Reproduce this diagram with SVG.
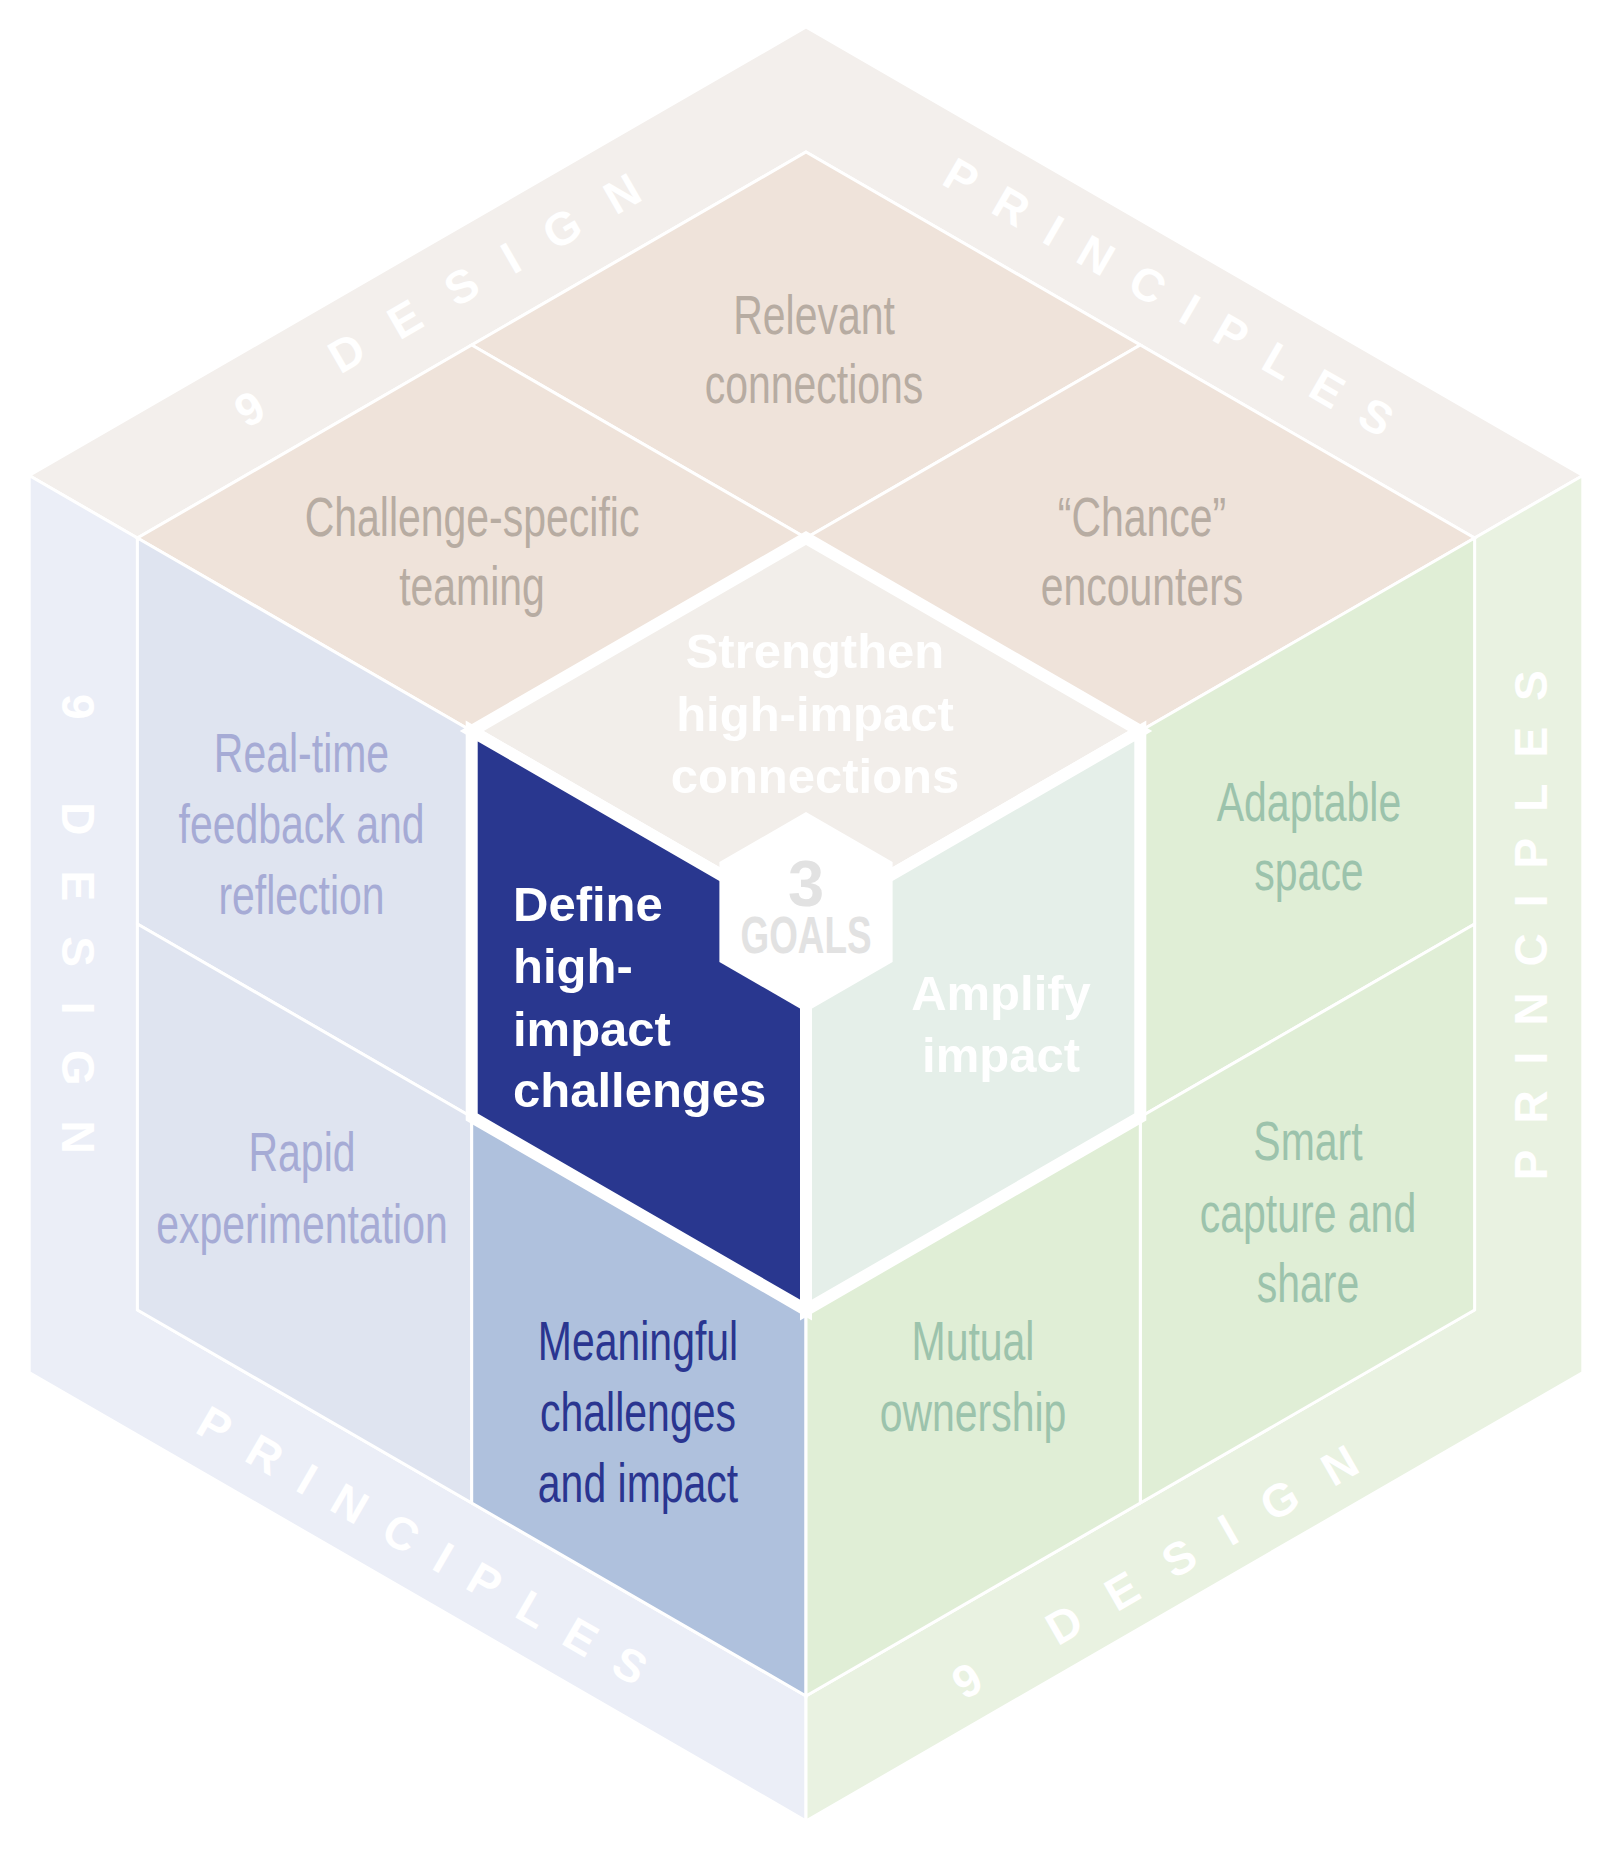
<svg xmlns="http://www.w3.org/2000/svg" width="1612" height="1854" viewBox="0 0 1612 1854">
<style>
.band{stroke:#fff;stroke-width:3;stroke-linejoin:miter}
.tile{stroke:#fff;stroke-width:3;stroke-linejoin:miter}
.goal{stroke:#fff;stroke-width:12;stroke-linejoin:miter}
.lbl{font-family:'Liberation Sans',Arial,sans-serif;font-size:55px;text-anchor:middle}
.gl{font-family:'Liberation Sans',Arial,sans-serif;font-size:49px;font-weight:bold;fill:#fff}
.bt{font-family:'Liberation Sans',Arial,sans-serif;font-size:46px;font-weight:bold;fill:#fff}
.d{letter-spacing:35px}
.p{letter-spacing:26px}
.ct{fill:#efe3da}.cl{fill:#dfe4f0}.cr{fill:#e0eed6}
.tt{fill:#b7aca2}.tl{fill:#a6abd5}.tr{fill:#9cc3ac}
</style>
<rect width="1612" height="1854" fill="#fff"/>

<g id="bands">
  <g id="band-top">
    <polygon class="band" fill="#f3efec" points="806,27 1582.8,475.5 1474.6,538 806,152 137.4,538 29.2,475.5"/>
    <text class="bt d" transform="translate(246.5,429) rotate(-30)">9 DESIGN</text>
    <text class="bt p" transform="translate(939.9,183.4) rotate(30)">PRINCIPLES</text>
  </g>
  <g id="band-left">
    <polygon class="band" fill="#ebeef7" points="29.2,475.5 137.4,538 137.4,1310 806,1696 806,1821 29.2,1372.5"/>
    <text class="bt d" transform="translate(62.2,693.9) rotate(90)">9 DESIGN</text>
    <text class="bt p" transform="translate(193.5,1431.7) rotate(30)">PRINCIPLES</text>
  </g>
  <g id="band-right">
    <polygon class="band" fill="#e9f2e1" points="1582.8,475.5 1582.8,1372.5 806,1821 806,1696 1474.6,1310 1474.6,538"/>
    <text class="bt p" transform="translate(1546.5,1180.3) rotate(-90)">PRINCIPLES</text>
    <text class="bt d" transform="translate(963.9,1700.7) rotate(-30)">9 DESIGN</text>
  </g>
</g>

<g id="relevant-connections">
  <polygon class="tile ct" points="806,152 1140.3,345 806,538 471.7,345"/>
  <text class="lbl tt" transform="translate(814,0) scale(0.745,1)"><tspan x="0" y="334">Relevant</tspan><tspan x="0" y="403">connections</tspan></text>
</g>
<g id="challenge-specific-teaming">
  <polygon class="tile ct" points="471.7,345 806,538 471.7,731 137.4,538"/>
  <text class="lbl tt" transform="translate(472,0) scale(0.745,1)"><tspan x="0" y="536">Challenge-specific</tspan><tspan x="0" y="605">teaming</tspan></text>
</g>
<g id="chance-encounters">
  <polygon class="tile ct" points="1140.3,345 1474.6,538 1140.3,731 806,538"/>
  <text class="lbl tt" transform="translate(1142,0) scale(0.745,1)"><tspan x="0" y="536">“Chance”</tspan><tspan x="0" y="605">encounters</tspan></text>
</g>
<g id="real-time-feedback">
  <polygon class="tile cl" points="137.4,538 471.7,731 471.7,1117 137.4,924"/>
  <text class="lbl tl" transform="translate(301.5,0) scale(0.745,1)"><tspan x="0" y="772">Real-time</tspan><tspan x="0" y="843">feedback and</tspan><tspan x="0" y="914">reflection</tspan></text>
</g>
<g id="rapid-experimentation">
  <polygon class="tile cl" points="137.4,924 471.7,1117 471.7,1503 137.4,1310"/>
  <text class="lbl tl" transform="translate(302,0) scale(0.745,1)"><tspan x="0" y="1171">Rapid</tspan><tspan x="0" y="1243">experimentation</tspan></text>
</g>
<g id="meaningful-challenges">
  <polygon class="tile" fill="#afc1dd" points="471.7,1117 806,1310 806,1696 471.7,1503"/>
  <text class="lbl" fill="#2a3590" transform="translate(638,0) scale(0.745,1)"><tspan x="0" y="1360">Meaningful</tspan><tspan x="0" y="1431">challenges</tspan><tspan x="0" y="1502">and impact</tspan></text>
</g>
<g id="adaptable-space">
  <polygon class="tile cr" points="1140.3,731 1474.6,538 1474.6,924 1140.3,1117"/>
  <text class="lbl tr" transform="translate(1309,0) scale(0.745,1)"><tspan x="0" y="821">Adaptable</tspan><tspan x="0" y="890">space</tspan></text>
</g>
<g id="smart-capture">
  <polygon class="tile cr" points="1140.3,1117 1474.6,924 1474.6,1310 1140.3,1503"/>
  <text class="lbl tr" transform="translate(1308,0) scale(0.745,1)"><tspan x="0" y="1160">Smart</tspan><tspan x="0" y="1232">capture and</tspan><tspan x="0" y="1302">share</tspan></text>
</g>
<g id="mutual-ownership">
  <polygon class="tile cr" points="806,1310 1140.3,1117 1140.3,1503 806,1696"/>
  <text class="lbl tr" transform="translate(973,0) scale(0.745,1)"><tspan x="0" y="1360">Mutual</tspan><tspan x="0" y="1431">ownership</tspan></text>
</g>

<g id="goal-strengthen">
  <polygon class="goal" fill="#f2eeea" points="806,538 1140.3,731 806,924 471.7,731"/>
  <text class="gl" text-anchor="middle"><tspan x="815" y="668">Strengthen</tspan><tspan x="815" y="731">high-impact</tspan><tspan x="815" y="793">connections</tspan></text>
</g>
<g id="goal-define">
  <polygon class="goal" fill="#29378f" points="471.7,731 806,924 806,1310 471.7,1117"/>
</g>
<g id="goal-amplify">
  <polygon class="goal" fill="#e5efe9" points="806,924 1140.3,731 1140.3,1117 806,1310"/>
  <text class="gl" text-anchor="middle"><tspan x="1001" y="1010">Amplify</tspan><tspan x="1001" y="1072">impact</tspan></text>
</g>
<g id="three-goals">
  <polygon fill="#fff" points="806,812 892.6,862 892.6,962 806,1012 719.4,962 719.4,862"/>
  <text font-family="'Liberation Sans',Arial,sans-serif" font-weight="bold" fill="#e2e2e2" text-anchor="middle"><tspan x="806" y="906" font-size="65">3</tspan><tspan x="806" y="953" font-size="52" textLength="131" lengthAdjust="spacingAndGlyphs">GOALS</tspan></text>
</g>
<g id="goal-define-label">
  <text class="gl"><tspan x="513" y="921">Define</tspan><tspan x="513" y="983">high-</tspan><tspan x="513" y="1046">impact</tspan><tspan x="513" y="1107">challenges</tspan></text>
</g>
</svg>
